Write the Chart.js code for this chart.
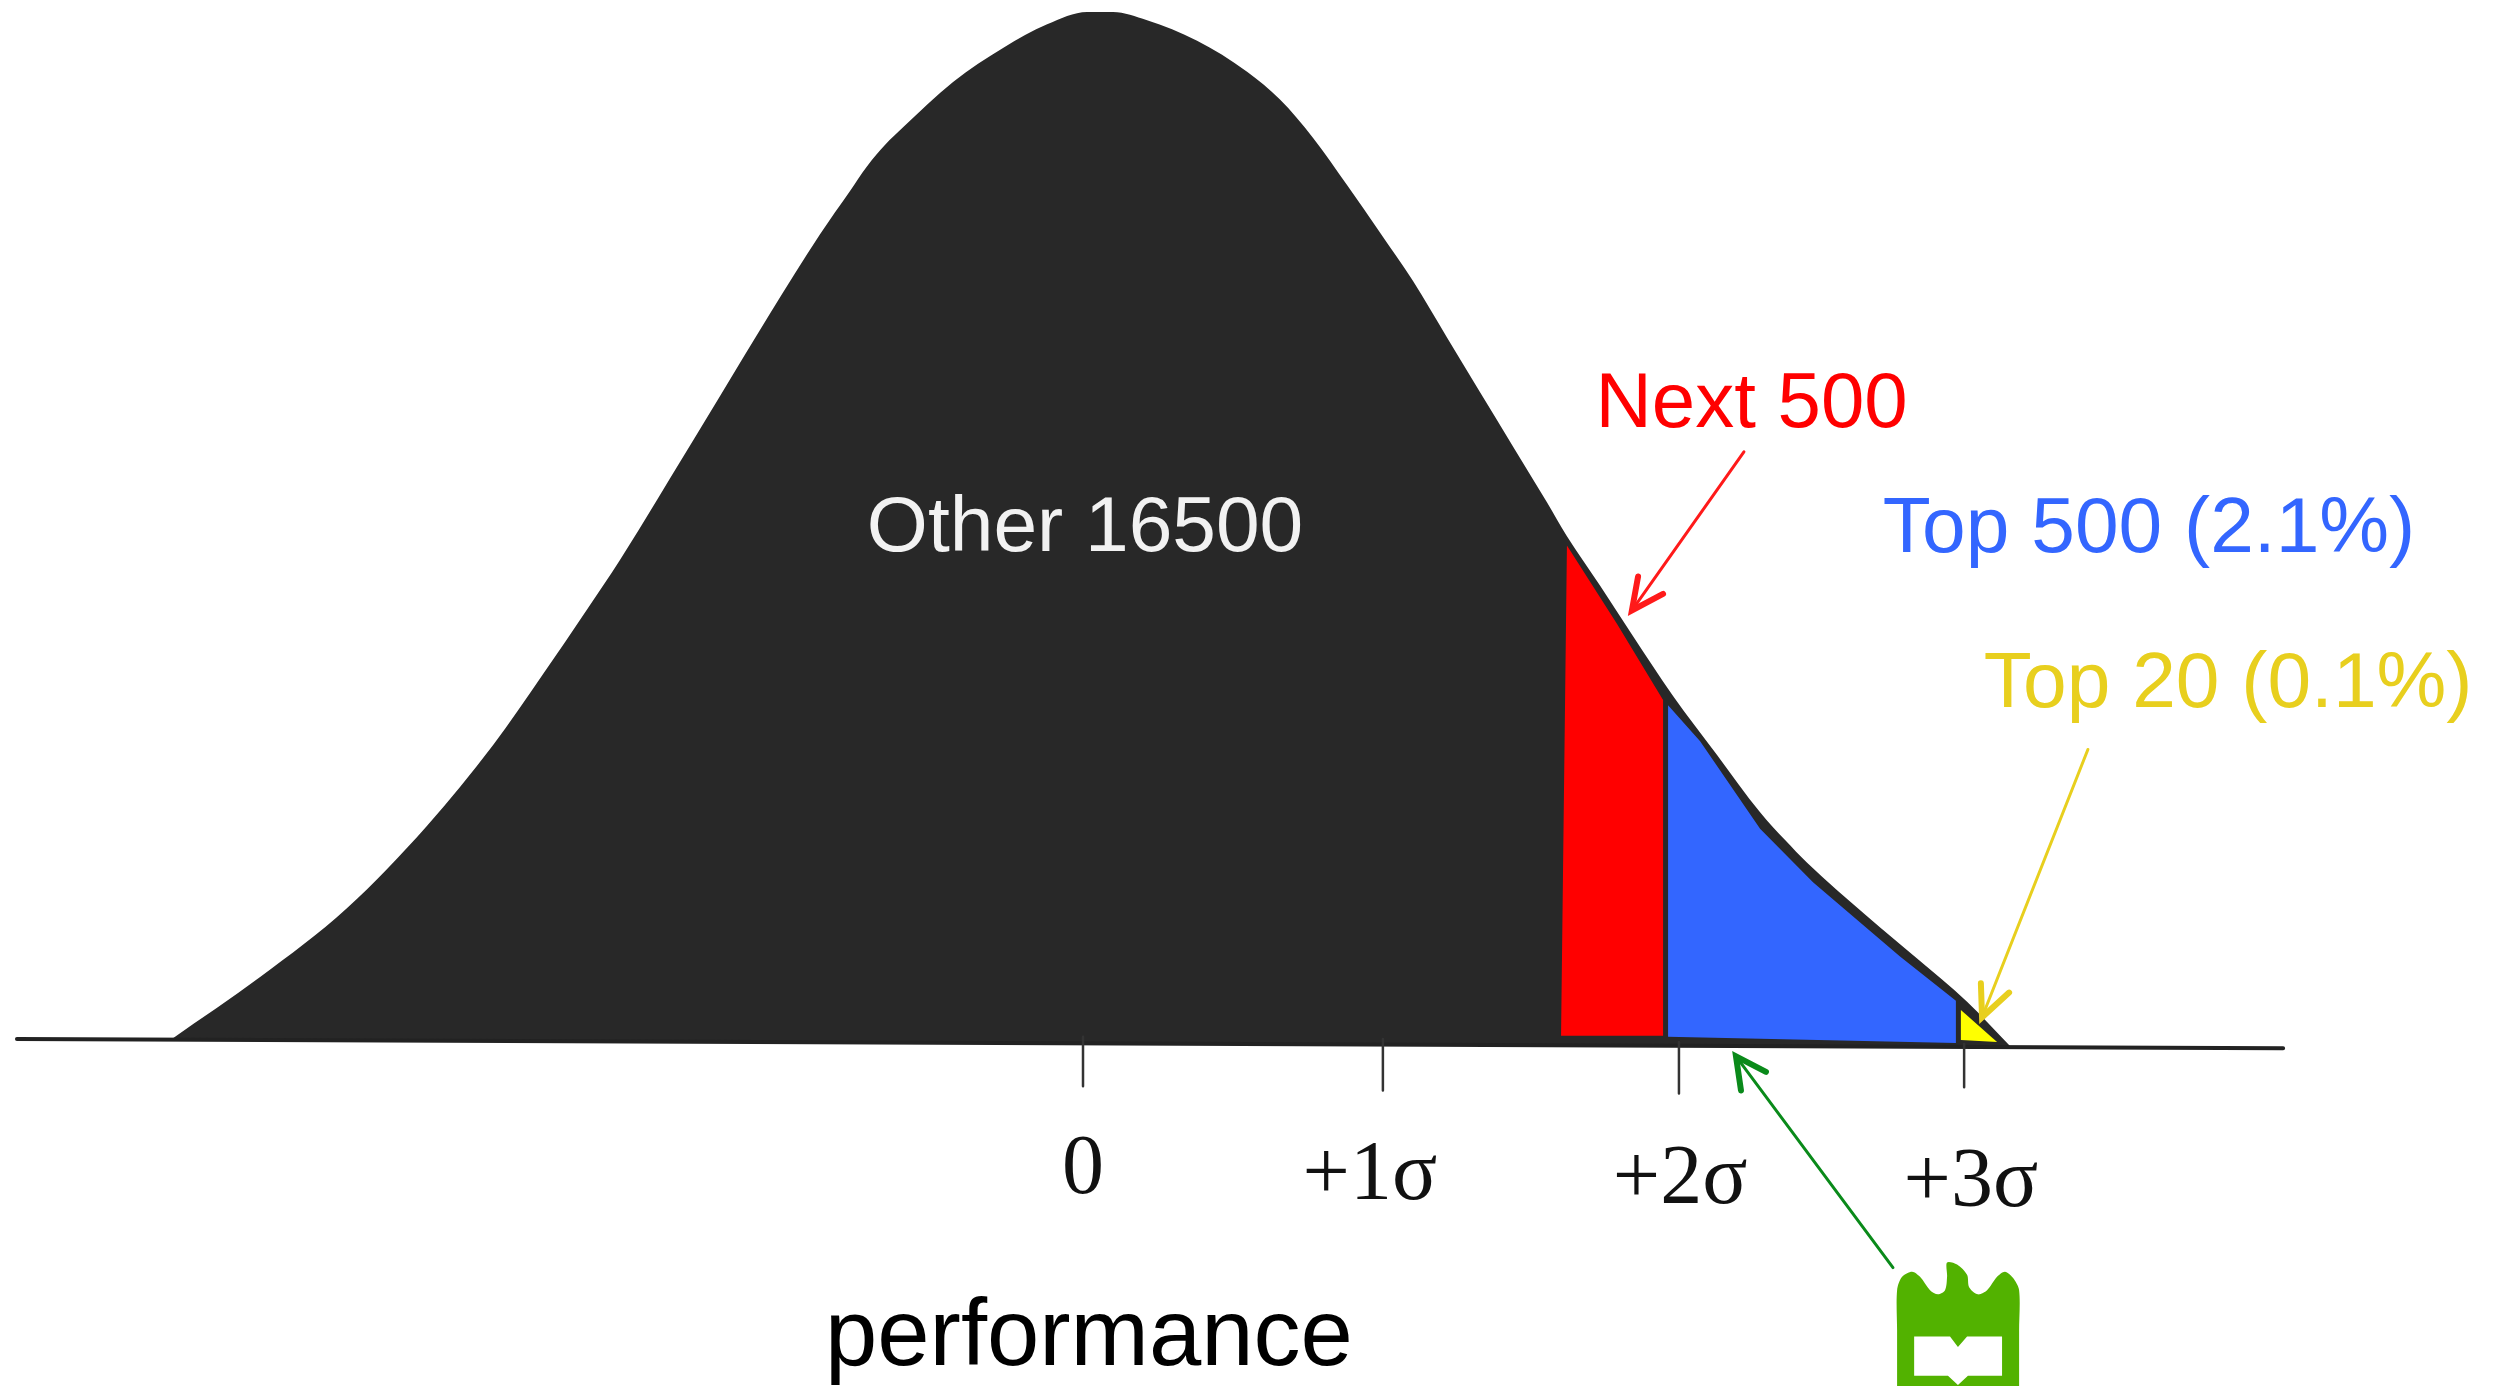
<!DOCTYPE html>
<html>
<head>
<meta charset="utf-8">
<title>performance</title>
<script src="https://cdn.jsdelivr.net/npm/chart.js@4"></script>
<style>
    html, body { margin: 0; padding: 0; background: #ffffff; overflow: hidden; }
    canvas { display: block; }
</style>
</head>
<body>
<canvas id="bellChart" width="2498" height="1386"></canvas>
<script>
// x is in sigma, y is share of the peak height
const curveX = [-3.099, -2.799, -2.503, -2.231, -2.007, -1.837, -1.687, -1.575, -1.490, -1.405, -1.235, -1.065, -0.895, -0.793, -0.735, -0.673, -0.612, -0.442, -0.272, -0.122, 0.014, 0.102, 0.218, 0.388, 0.558, 0.670, 0.782, 0.898, 1.010, 1.122, 1.238, 1.350, 1.463, 1.578, 1.646, 1.759, 1.871, 2.007, 2.156, 2.303, 2.388, 2.463, 2.667, 2.837, 3.007, 3.153];
const curveY = [0.003, 0.063, 0.130, 0.210, 0.288, 0.357, 0.420, 0.468, 0.507, 0.547, 0.627, 0.707, 0.784, 0.826, 0.850, 0.871, 0.888, 0.932, 0.965, 0.988, 1.000, 1.000, 0.992, 0.972, 0.942, 0.915, 0.878, 0.832, 0.786, 0.739, 0.684, 0.631, 0.578, 0.524, 0.491, 0.443, 0.394, 0.336, 0.279, 0.223, 0.196, 0.174, 0.122, 0.081, 0.039, -0.004];

const redX = [1.646, 1.816, 1.973, 1.973, 1.626];
const redY = [0.482, 0.406, 0.332, 0.006, 0.006];
const blueX = [1.990, 2.099, 2.303, 2.483, 2.779, 2.969, 2.969, 1.990];
const blueY = [0.327, 0.292, 0.207, 0.155, 0.083, 0.040, -0.001, 0.005];
const yellowX = [2.986, 3.109, 2.986];
const yellowY = [0.031, 0.000, 0.002];

const baselineX = [-3.626, 4.082];
const baselineY = [0.003, -0.006];

const tickX = [0, 1.020, 2.027, 2.997];
const tickTop = [0.005, 0.003, 0.000, -0.002];
const tickBottom = [-0.043, -0.047, -0.050, -0.044];
const tickLabels = ['0', '+1σ', '+2σ', '+3σ'];
const tickLabelX = [0, 0.976, 2.031, 3.020];
const tickLabelY = [-0.147, -0.152, -0.156, -0.159];

// arrows: shaft start, tip, then the two barbs
const redArrowX = [2.248, 1.867, 1.888, 1.973];
const redArrowY = [0.573, 0.419, 0.452, 0.435];
const yellowArrowX = [3.418, 3.058, 3.054, 3.150];
const yellowArrowY = [0.284, 0.024, 0.057, 0.048];
const greenArrowX = [2.755, 2.221, 2.238, 2.323];
const greenArrowY = [-0.219, -0.014, -0.047, -0.029];

// university logo under the arrow
const logoX = [2.769, 2.769, 2.769, 2.786, 2.820, 2.847, 2.881, 2.908, 2.932, 2.939, 2.939, 2.973, 3.007, 3.014, 3.044, 3.075, 3.109, 3.136, 3.163, 3.184, 3.184, 3.184];
const logoY = [-0.340, -0.280, -0.241, -0.228, -0.223, -0.228, -0.241, -0.245, -0.241, -0.228, -0.214, -0.216, -0.226, -0.238, -0.245, -0.241, -0.228, -0.223, -0.229, -0.241, -0.280, -0.340];
const bookX = [2.827, 2.949, 2.976, 3.007, 3.126, 3.126, 3.010, 2.976, 2.942, 2.827];
const bookY = [-0.286, -0.286, -0.296, -0.286, -0.286, -0.324, -0.324, -0.333, -0.324, -0.324];

const groupLabels = ['Other 16500', 'Next 500', 'Top 500 (2.1%)', 'Top 20 (0.1%)', 'performance'];
const groupLabelX = [0.007, 2.274, 3.626, 3.895, 0.020];
const groupLabelY = [0.477, 0.597, 0.476, 0.325, -0.314];
const groupLabelColors = ['#f2f2f2', '#ff0000', '#3366ff', '#e8cf1e', '#000000'];
const groupLabelSizes = [78.5, 78, 78.5, 78.5, 94];

function toPoints(xs, ys) {
    return xs.map((x, i) => ({ x: x, y: ys[i] }));
}

function polygon(xs, ys, color, extra) {
    return Object.assign({
        data: toPoints(xs, ys),
        showLine: true,
        fill: 'shape',
        backgroundColor: color,
        borderWidth: 0,
        pointRadius: 0,
        tension: 0
    }, extra);
}

function polyline(points, color, width) {
    return {
        data: points,
        showLine: true,
        fill: false,
        borderColor: color,
        borderWidth: width,
        borderCapStyle: 'round',
        pointRadius: 0
    };
}

function arrow(xs, ys, color) {
    let p = toPoints(xs, ys);
    return [polyline(p.slice(0, 2), color, 3), polyline([p[2], p[1], p[3]], color, 6)];
}

// bottom layer first, reversed at the end because Chart.js draws the first dataset on top
let layers = [
    polygon(curveX, curveY, '#282828', { cubicInterpolationMode: 'monotone' }),
    polygon(redX, redY, '#ff0000'),
    polygon(blueX, blueY, '#3366ff'),
    polygon(yellowX, yellowY, '#ffff00'),
    polyline(toPoints(baselineX, baselineY), '#222222', 4)
];
tickX.forEach((x, i) => {
    layers.push(polyline([{ x: x, y: tickTop[i] }, { x: x, y: tickBottom[i] }], '#333333', 2.5));
});
layers = layers.concat(arrow(redArrowX, redArrowY, '#ff1a1a'));
layers = layers.concat(arrow(yellowArrowX, yellowArrowY, '#e8cf1e'));
layers = layers.concat(arrow(greenArrowX, greenArrowY, '#0a8a1a'));
layers.push(polygon(logoX, logoY, '#52b200', { tension: 0.3 }));
layers.push(polygon(bookX, bookY, '#ffffff'));
layers.reverse();

// tick labels and group names sit at different heights, so they are placed through the scales here
const textPlugin = {
    id: 'textPlugin',
    afterDatasetsDraw(chart) {
        const ctx = chart.ctx;
        const xScale = chart.scales.x;
        const yScale = chart.scales.y;
        ctx.save();
        ctx.textAlign = 'center';
        ctx.textBaseline = 'alphabetic';
        groupLabels.forEach((text, i) => {
            ctx.font = `${groupLabelSizes[i]}px "Liberation Sans"`;
            ctx.fillStyle = groupLabelColors[i];
            ctx.fillText(text, xScale.getPixelForValue(groupLabelX[i]), yScale.getPixelForValue(groupLabelY[i]));
        });
        ctx.font = '84px "Liberation Serif"';
        ctx.fillStyle = '#111111';
        tickLabels.forEach((text, i) => {
            ctx.fillText(text, xScale.getPixelForValue(tickLabelX[i]), yScale.getPixelForValue(tickLabelY[i]));
        });
        ctx.restore();
    }
};

new Chart(document.getElementById('bellChart'), {
    type: 'scatter',
    data: { datasets: layers },
    options: {
        responsive: false,
        animation: false,
        devicePixelRatio: 1,
        layout: { padding: 0 },
        plugins: {
            legend: { display: false },
            tooltip: { enabled: false }
        },
        scales: {
            x: { type: 'linear', display: false, min: -3.6837, max: 4.8129 },
            y: { type: 'linear', display: false, min: -0.33398, max: 1.01165 }
        }
    },
    plugins: [textPlugin]
});
</script>
</body>
</html>
